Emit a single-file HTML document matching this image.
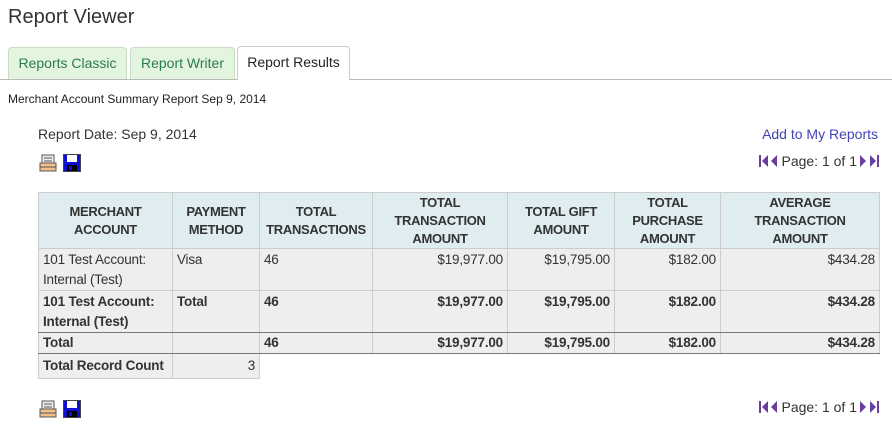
<!DOCTYPE html>
<html><head><style>
body{margin:0;width:892px;height:437px;background:#fff;font-family:"Liberation Sans",Arial,sans-serif;color:#333;position:relative;overflow:hidden}
.abs{position:absolute}
h1{position:absolute;left:8px;top:6px;margin:0;font-weight:normal;font-size:20px;color:#333}
.tab{position:absolute;top:47px;height:32px;box-sizing:border-box;border:1px solid #c8dcc4;border-bottom:none;border-radius:4px 4px 0 0;background:#e3f5df;color:#2d7a4f;font-size:14px;line-height:31px;text-align:center}
.tab.act{background:#fff;border-color:#ccc;color:#222;top:46px;height:34px}
.line{position:absolute;left:0;right:0;top:79px;border-top:1px solid #bbb}
table{position:absolute;left:38px;top:192px;border-collapse:collapse;font-size:13.5px;color:#333;table-layout:fixed;width:841px;letter-spacing:-0.2px}
td,th{border:1px solid #ccc;padding:0 4px;vertical-align:top;background:#eee;overflow:hidden;box-sizing:border-box}
th{background:#dfedf1;font-weight:bold;text-align:center;vertical-align:middle;line-height:18px;height:56px;padding:0 1px;font-size:13px;letter-spacing:-0.3px}
td{line-height:20px;padding-top:1px}
.r{text-align:right}
.dkb td{border-bottom:1px solid #777}
.icon{position:absolute;width:18px;height:18px}
.pg{position:absolute;font-size:14px;color:#333;display:flex;align-items:center;gap:2px}
</style></head><body>
<h1>Report Viewer</h1>
<div class="tab" style="left:8px;width:119px">Reports Classic</div>
<div class="tab" style="left:130px;width:105px">Report Writer</div>
<div class="line"></div>
<div class="tab act" style="left:237px;width:113px">Report Results</div>
<div class="abs" style="left:8px;top:92px;font-size:12px;color:#222">Merchant Account Summary Report Sep 9, 2014</div>
<div class="abs" style="left:38px;top:126px;font-size:14px">Report Date: Sep 9, 2014</div>
<div class="abs" style="right:14px;top:126px;font-size:14px;color:#4343b5">Add to My Reports</div>

<svg class="icon" style="left:39px;top:154px" viewBox="0 0 18 18"><rect x="3" y="1" width="12" height="9" fill="#eee" stroke="#555"/><line x1="5" y1="4" x2="13" y2="4" stroke="#555"/><line x1="5" y1="7" x2="13" y2="7" stroke="#555"/><rect x="1" y="9" width="16" height="8" fill="#f4c08c" stroke="#555"/><line x1="1" y1="13" x2="17" y2="13" stroke="#555"/></svg>
<svg class="icon" style="left:63px;top:154px" viewBox="0 0 18 18"><rect x="0.5" y="0.5" width="17" height="17" fill="#1010d0" stroke="#444"/><rect x="4" y="1" width="10" height="7" fill="#fff"/><rect x="4" y="11" width="10" height="6" fill="#000"/><rect x="6" y="12" width="3" height="4" fill="#1010d0"/></svg>
<div class="pg" style="right:13px;top:153px"><svg width="20" height="12"><rect x="0" y="0" width="2" height="12" fill="#6b3fa0"/><polygon points="9,0 3,6 9,12" fill="#6b3fa0"/><polygon points="18,0 12,6 18,12" fill="#6b3fa0"/></svg><span>Page: 1 of 1</span><svg width="20" height="12"><polygon points="1,0 7,6 1,12" fill="#6b3fa0"/><polygon points="11,0 17,6 11,12" fill="#6b3fa0"/><rect x="18" y="0" width="2" height="12" fill="#6b3fa0"/></svg></div>

<table>
<colgroup><col style="width:134px"><col style="width:87px"><col style="width:113px"><col style="width:135px"><col style="width:107px"><col style="width:106px"><col style="width:159px"></colgroup>
<tr><th>MERCHANT<br>ACCOUNT</th><th>PAYMENT<br>METHOD</th><th>TOTAL<br>TRANSACTIONS</th><th>TOTAL<br>TRANSACTION<br>AMOUNT</th><th>TOTAL GIFT<br>AMOUNT</th><th>TOTAL<br>PURCHASE<br>AMOUNT</th><th>AVERAGE<br>TRANSACTION<br>AMOUNT</th></tr>
<tr style="height:42px"><td>101 Test Account:<br>Internal (Test)</td><td>Visa</td><td>46</td><td class="r">$19,977.00</td><td class="r">$19,795.00</td><td class="r">$182.00</td><td class="r">$434.28</td></tr>
<tr style="height:41px;font-weight:bold" class="dkb"><td>101 Test Account:<br>Internal (Test)</td><td>Total</td><td>46</td><td class="r">$19,977.00</td><td class="r">$19,795.00</td><td class="r">$182.00</td><td class="r">$434.28</td></tr>
<tr style="height:21px;font-weight:bold" class="dkb"><td style="padding-top:0">Total</td><td></td><td style="padding-top:0">46</td><td class="r" style="padding-top:0">$19,977.00</td><td class="r" style="padding-top:0">$19,795.00</td><td class="r" style="padding-top:0">$182.00</td><td class="r" style="padding-top:0">$434.28</td></tr>
<tr style="height:25px"><td style="padding:2px 4px;white-space:nowrap;font-weight:bold">Total Record Count</td><td class="r" style="padding:2px 4px">3</td><td style="border:none;background:#fff"></td><td style="border:none;background:#fff"></td><td style="border:none;background:#fff"></td><td style="border:none;background:#fff"></td><td style="border:none;background:#fff"></td></tr>
</table>

<svg class="icon" style="left:39px;top:400px" viewBox="0 0 18 18"><rect x="3" y="1" width="12" height="9" fill="#eee" stroke="#555"/><line x1="5" y1="4" x2="13" y2="4" stroke="#555"/><line x1="5" y1="7" x2="13" y2="7" stroke="#555"/><rect x="1" y="9" width="16" height="8" fill="#f4c08c" stroke="#555"/><line x1="1" y1="13" x2="17" y2="13" stroke="#555"/></svg>
<svg class="icon" style="left:63px;top:400px" viewBox="0 0 18 18"><rect x="0.5" y="0.5" width="17" height="17" fill="#1010d0" stroke="#444"/><rect x="4" y="1" width="10" height="7" fill="#fff"/><rect x="4" y="11" width="10" height="6" fill="#000"/><rect x="6" y="12" width="3" height="4" fill="#1010d0"/></svg>
<div class="pg" style="right:13px;top:399px"><svg width="20" height="12"><rect x="0" y="0" width="2" height="12" fill="#6b3fa0"/><polygon points="9,0 3,6 9,12" fill="#6b3fa0"/><polygon points="18,0 12,6 18,12" fill="#6b3fa0"/></svg><span>Page: 1 of 1</span><svg width="20" height="12"><polygon points="1,0 7,6 1,12" fill="#6b3fa0"/><polygon points="11,0 17,6 11,12" fill="#6b3fa0"/><rect x="18" y="0" width="2" height="12" fill="#6b3fa0"/></svg></div>
</body></html>
